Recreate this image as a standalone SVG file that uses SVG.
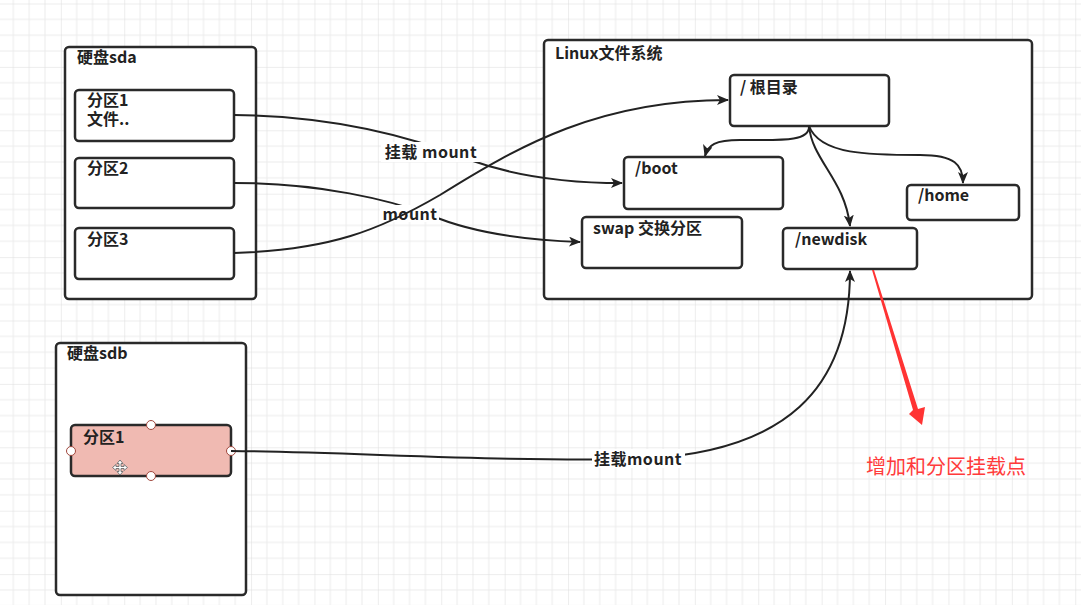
<svg xmlns="http://www.w3.org/2000/svg" width="1081" height="605" viewBox="0 0 1081 605">
<defs>
<pattern id="grid" patternUnits="userSpaceOnUse" x="-2.55" y="3.5" width="63.4" height="63.4">
<path d="M15.85 0V63.4M31.7 0V63.4M47.55 0V63.4M0 15.85H63.4M0 31.7H63.4M0 47.55H63.4" stroke="#ececec" stroke-width="1" fill="none"/>
<path d="M0 0V63.4M0 0H63.4" stroke="#dcdcdc" stroke-width="1" fill="none"/>
</pattern>
<marker id="arr" viewBox="0 0 12 10" refX="11" refY="5" markerWidth="12" markerHeight="10" markerUnits="userSpaceOnUse" orient="auto">
<path d="M0 0L12 5L0 10L3 5Z" fill="#222"/>
</marker>
<style>
.box{fill:#fff;stroke:#2a2a2a;stroke-width:2.5}
.t{font-family:"Noto Sans CJK SC","Noto Sans",sans-serif;font-weight:bold;font-size:16px;fill:#222}
.lbl{font-family:"Noto Sans CJK SC","Noto Sans",sans-serif;font-weight:bold;font-size:16px;fill:#222;text-anchor:middle;letter-spacing:0.5px}
.edge{fill:none;stroke:#222;stroke-width:2}
.h{fill:#fff;stroke:#a0463c;stroke-width:1}
</style>
</defs>
<rect width="1081" height="605" fill="#fff"/>
<rect width="1081" height="605" fill="url(#grid)"/>

<g id="sda">
<rect class="box" x="65" y="47" width="191" height="252" rx="4"/>
<text class="t" x="77" y="63">硬盘sda</text>
</g>
<g id="sda1">
<rect class="box" x="75" y="90" width="159" height="51" rx="4"/>
<text class="t" x="87" y="106">分区1</text>
<text class="t" x="87" y="125">文件..</text>
</g>
<g id="sda2">
<rect class="box" x="75" y="158" width="159" height="50" rx="4"/>
<text class="t" x="87" y="174">分区2</text>
</g>
<g id="sda3">
<rect class="box" x="75" y="228" width="159" height="51" rx="4"/>
<text class="t" x="87" y="245">分区3</text>
</g>

<g id="linuxfs">
<rect class="box" x="544" y="40" width="488" height="259" rx="4"/>
<text class="t" x="555" y="59">Linux文件系统</text>
</g>
<g id="root">
<rect class="box" x="730" y="75" width="159" height="51" rx="4"/>
<text class="t" x="740" y="93">/ 根目录</text>
</g>
<g id="boot">
<rect class="box" x="624" y="157" width="159" height="52" rx="4"/>
<text class="t" x="635" y="174">/boot</text>
</g>
<g id="swap">
<rect class="box" x="582" y="217" width="160" height="51" rx="4"/>
<text class="t" x="593" y="234">swap 交换分区</text>
</g>
<g id="home">
<rect class="box" x="907" y="185" width="112" height="35" rx="4"/>
<text class="t" x="918" y="201">/home</text>
</g>
<g id="newdisk">
<rect class="box" x="783" y="228" width="134" height="41" rx="4"/>
<text class="t" x="795" y="245">/newdisk</text>
</g>

<g id="sdb">
<rect class="box" x="56" y="343" width="190" height="252" rx="4"/>
<text class="t" x="67" y="359">硬盘sdb</text>
</g>
<g id="sdb1">
<rect x="71" y="425" width="160" height="51" rx="4" fill="#f0bab2" stroke="#2a2a2a" stroke-width="2.5"/>
<text class="t" x="83" y="443">分区1</text>
<circle class="h" cx="151" cy="425" r="4.5"/>
<circle class="h" cx="151" cy="476" r="4.5"/>
<circle class="h" cx="71" cy="451" r="4.5"/>
<circle class="h" cx="231" cy="451" r="4.5"/>
<path d="M120 460l3 3.5h-2v3h3v-2l3.5 3-3.5 3v-2h-3v3h2l-3 3.5-3-3.5h2v-3h-3v2l-3.5-3 3.5-3v2h3v-3h-2z" fill="#fff" stroke="#777" stroke-width="1"/>
</g>

<g id="connectors">
<path class="edge" d="M234 115C340 116 420 140 470 160C520 178 570 183 622 183" marker-end="url(#arr)"/>
<rect x="381" y="142" width="99" height="20" fill="#fff"/>
<text class="lbl" x="431" y="158">挂载 mount</text>
<path class="edge" d="M234 183C320 183 390 200 430 215C470 232 520 240 580 242" marker-end="url(#arr)"/>
<rect x="380" y="205" width="59" height="17" fill="#fff"/>
<text class="lbl" x="410" y="220">mount</text>
<path class="edge" d="M234 253C330 250 380 230 440 195C520 145 600 100 728 100" marker-end="url(#arr)"/>
<path class="edge" d="M809 126C810 142 780 140 740 140C715 140 708 145 705 156" marker-end="url(#arr)"/>
<path class="edge" d="M809 126C812 160 845 180 850 226" marker-end="url(#arr)"/>
<path class="edge" d="M809 126C820 155 870 155 920 155C955 155 963 165 963 183" marker-end="url(#arr)"/>
<path class="edge" d="M231 451C350 452 500 462 640 459C785 452 850 390 850 271" marker-end="url(#arr)"/>
<rect x="592" y="449" width="93" height="19" fill="#fff"/>
<text class="lbl" x="638" y="465">挂载mount</text>
</g>

<g id="note">
<polygon points="872,270 874,270 918,409 925,407 922,425 909,414 913,410" fill="#ff3333"/>
<text x="866" y="474" font-family="'Noto Sans CJK SC',sans-serif" font-size="20" fill="#ff3b3b">增加和分区挂载点</text>
</g>
</svg>
